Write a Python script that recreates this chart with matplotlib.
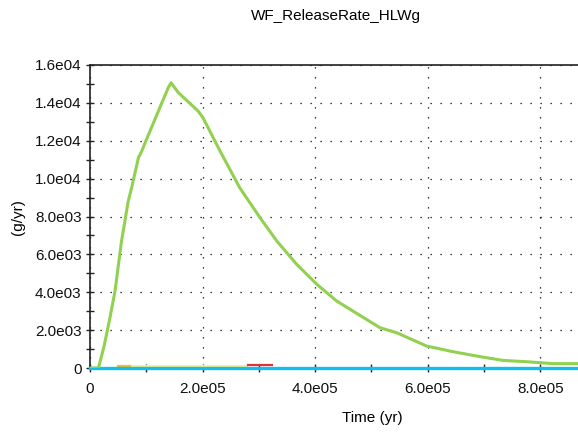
import matplotlib
matplotlib.use("Agg")
import matplotlib.pyplot as plt
from matplotlib.ticker import MultipleLocator, FuncFormatter

# Release rate of HLWg (g/yr) versus time (yr)
t_main = [0, 1.25e4, 1.5e4, 2.5e4, 3.55e4, 4.45e4, 5.6e4, 6.8e4, 7.4e4, 8.6e4, 9.2e4, 9.8e4,
          1.39e5, 1.44e5, 1.57e5, 1.92e5, 2.01e5, 2.31e5, 2.66e5, 3.02e5, 3.32e5,
          3.67e5, 4.03e5, 4.38e5, 5.15e5, 5.45e5, 5.98e5, 6.45e5, 6.93e5, 7.34e5,
          7.76e5, 8.23e5, 8.70e5]
rate_main = [0, 0, 0, 1150, 2660, 4070, 6700, 8820, 9520, 11100, 11460, 11900,
             14800, 15060, 14540, 13570, 13200, 11460, 9520, 7940, 6700,
             5480, 4420, 3540, 2130, 1860, 1160, 860, 600, 400,
             330, 230, 230]

# Minor species: only the stretches where they rise above the baseline
t_gold = [5.0e4, 7.1e4]
rate_gold = [130, 130]

t_pale = [7.1e4, 2.79e5]
rate_pale = [90, 90]

t_red = [2.80e5, 3.24e5]
rate_red = [150, 150]

t_cyan = [0, 8.70e5]
rate_cyan = [0, 0]

title = "WF_ReleaseRate_HLWg"
xlabel = "Time (yr)"
ylabel = "(g/yr)"

plt.rcParams['font.family'] = ['Liberation Sans', 'DejaVu Sans']

fig = plt.figure(figsize=(5.78, 4.32), dpi=100)
ax = fig.add_axes([90 / 578, 1 - 368 / 432, 1 - 90 / 578, (368 - 65) / 432])

ax.plot(t_cyan, rate_cyan, color="#10bff0", lw=2.4, zorder=3, clip_on=False)
ax.plot(t_pale, rate_pale, color="#f6f08a", lw=1.4, zorder=2.9)
ax.plot(t_gold, rate_gold, color="#f0c020", lw=1.6, zorder=2.9)
ax.plot(t_red, rate_red, color="#e0303a", lw=1.6, zorder=2.9)
ax.plot(t_main, rate_main, color="#92d050", lw=2.2, zorder=5)

ax.set_xlim(0, 8.67e5)
ax.set_ylim(0, 1.6e4)


def fmt(v, pos):
    if v == 0:
        return "0"
    m, e = f"{v:.1e}".split("e")
    return f"{m}e{int(e):02d}"


ax.xaxis.set_major_locator(MultipleLocator(2e5))
ax.xaxis.set_minor_locator(MultipleLocator(1e5))
ax.yaxis.set_major_locator(MultipleLocator(2e3))
ax.yaxis.set_minor_locator(MultipleLocator(1e3))
ax.xaxis.set_major_formatter(FuncFormatter(fmt))
ax.yaxis.set_major_formatter(FuncFormatter(fmt))

ax.tick_params(axis='both', which='both', direction='inout', length=6, width=1,
               labelsize=11, colors='#222222', labelcolor='#111111')
ax.tick_params(axis='y', which='both', pad=3)
ax.tick_params(axis='x', which='both', pad=7)

ax.grid(True, which='major', color='black', linestyle=(0, (1, 7)), lw=0.9)

for s in ['right']:
    ax.spines[s].set_visible(False)
for s in ['left', 'top', 'bottom']:
    ax.spines[s].set_color('#222222')
    ax.spines[s].set_linewidth(1.2)

fig.text(336 / 578, 1 - 16 / 432, title, ha='center', va='center', fontsize=11)
fig.text(372 / 578, 1 - 418 / 432, xlabel, ha='center', va='center', fontsize=11)
fig.text(17.5 / 578, 1 - 217 / 432, ylabel, ha='center', va='center',
         rotation=90, fontsize=11)

fig.savefig("out.png", dpi=100)
